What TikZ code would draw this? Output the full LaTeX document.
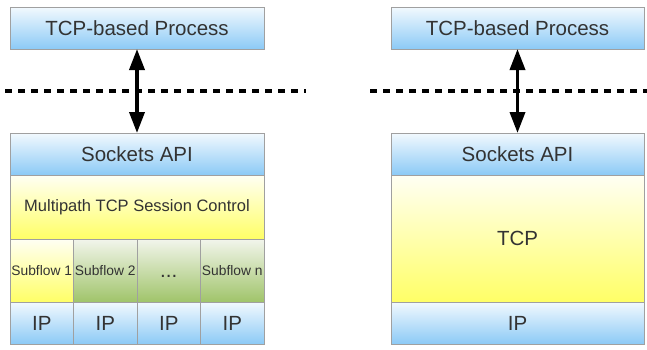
\documentclass[tikz,border=0pt]{standalone}
\usepackage{fontspec}
\setmainfont{Liberation Sans}
\usetikzlibrary{arrows.meta}
\definecolor{txt}{HTML}{333333}
\definecolor{edge}{HTML}{A0A0A0}
\definecolor{blueTop}{HTML}{F2F9FE}
\definecolor{blueBot}{HTML}{8CCAF6}
\definecolor{yelTop}{HTML}{FFFFF4}
\definecolor{yelBot}{HTML}{FFFF66}
\definecolor{grnTop}{HTML}{F2F5EC}
\definecolor{grnBot}{HTML}{A0C46A}
\tikzset{
  layer/.style={draw=edge, line width=0.8pt, rectangle, inner sep=0pt, outer sep=0pt,
    anchor=north west, text=txt, align=center},
  bluebox/.style={layer, top color=blueTop, bottom color=blueBot},
  yelbox/.style={layer, top color=yelTop, bottom color=yelBot},
  grnbox/.style={layer, top color=grnTop, bottom color=grnBot},
  big/.style={font=\fontsize{20.5}{24}\selectfont},
  mid/.style={font=\fontsize{16.5}{20}\selectfont},
  small/.style={font=\fontsize{13.8}{16}\selectfont},
  biarrow/.style={{Triangle[length=21pt,width=15pt]}-{Triangle[length=21pt,width=15pt]}, line width=3.6pt, black},
  sep/.style={line width=3.5pt, black, dash pattern=on 6.5pt off 6.5pt},
}
\begin{document}
\begin{tikzpicture}[x=1pt,y=-1pt]
\useasboundingbox (0,0) rectangle (647,349);

% ---- Multipath TCP stack ----
\node[bluebox, big, minimum width=254pt, minimum height=42pt] (procL) at (10,7) {TCP-based Process};
\node[bluebox, big, minimum width=254pt, minimum height=42pt] (sockL) at (10,133) {Sockets API};
\node[yelbox, mid, minimum width=254pt, minimum height=64pt] (mptcp) at (10,175) {Multipath TCP Session Control};
\node[yelbox, small, minimum width=63.5pt, minimum height=63pt] (sf1) at (10,239) {Subflow 1};
\node[grnbox, small, minimum width=63.5pt, minimum height=63pt] (sf2) at (73.5,239) {Subflow 2};
\node[grnbox, big, minimum width=63.5pt, minimum height=63pt, text height=13pt, text depth=0pt] (sf3) at (137,239) {...};
\node[grnbox, small, minimum width=63.5pt, minimum height=63pt] (sf4) at (200.5,239) {Subflow n};
\node[bluebox, big, minimum width=63.5pt, minimum height=42pt] (ip1) at (10,302) {IP};
\node[bluebox, big, minimum width=63.5pt, minimum height=42pt] (ip2) at (73.5,302) {IP};
\node[bluebox, big, minimum width=63.5pt, minimum height=42pt] (ip3) at (137,302) {IP};
\node[bluebox, big, minimum width=63.5pt, minimum height=42pt] (ip4) at (200.5,302) {IP};

\coordinate (sepLa) at (5,91);
\coordinate (sepLb) at (306,91);
\draw[sep] (sepLa) -- (sepLb);
\draw[biarrow] (procL.south) -- (sockL.north);

% ---- Regular TCP stack ----
\node[bluebox, big, minimum width=253pt, minimum height=42pt] (procR) at (391,7) {TCP-based Process};
\node[bluebox, big, minimum width=253pt, minimum height=42pt] (sockR) at (391,133) {Sockets API};
\node[yelbox, big, minimum width=253pt, minimum height=127pt] (tcp) at (391,175) {TCP};
\node[bluebox, big, minimum width=253pt, minimum height=42pt] (ipR) at (391,302) {IP};

\coordinate (sepRa) at (370,91);
\coordinate (sepRb) at (647,91);
\draw[sep] (sepRa) -- (sepRb);
\draw[biarrow] (procR.south) -- (sockR.north);
\end{tikzpicture}
\end{document}
